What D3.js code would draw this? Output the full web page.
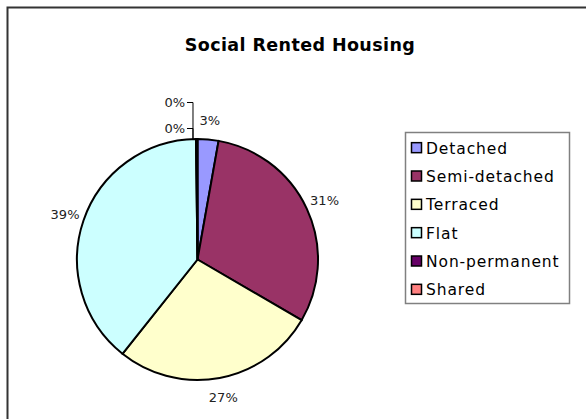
<!DOCTYPE html>
<html>
<head>
<meta charset="utf-8">
<script src="https://cdn.jsdelivr.net/npm/d3@7"></script>
<style>
  body { margin: 0; background: #fff; }
  text { font-family: "DejaVu Sans", sans-serif; fill: #222; }
</style>
</head>
<body>
<div id="chart"></div>
<script>
const width = 586;
const height = 419;

// data
const categories = ["Detached", "Semi-detached", "Terraced", "Flat", "Non-permanent", "Shared"];
const shares = [2.8, 30.6, 27.3, 39.1, 0.1, 0.1];
const labels = ["3%", "31%", "27%", "39%", "0%", "0%"];
const colors = ["#9999ff", "#993366", "#ffffcc", "#ccffff", "#660066", "#ff8080"];

const data = categories.map((c, i) => ({ name: c, value: shares[i], label: labels[i], color: colors[i] }));

const cx = 197.5, cy = 259.5, radius = 120.5;

const svg = d3.select("#chart")
  .append("svg")
  .attr("width", width)
  .attr("height", height);

// outer chart border (right and bottom run off the picture)
svg.append("rect")
  .attr("x", 7.5)
  .attr("y", 7.5)
  .attr("width", width + 20)
  .attr("height", height + 20)
  .attr("fill", "none")
  .attr("stroke", "#333")
  .attr("stroke-width", 2);

// Title
svg.append("text")
  .attr("x", 300)
  .attr("y", 51)
  .attr("text-anchor", "middle")
  .attr("font-size", "17.5px")
  .attr("font-weight", "bold")
  .attr("letter-spacing", "0.4px")
  .style("fill", "#000")
  .text("Social Rented Housing");

const pie = d3.pie().sort(null).value(d => d.value);
const arcs = pie(data);

const arc = d3.arc().innerRadius(0).outerRadius(radius);
const labelArc = d3.arc().innerRadius(140).outerRadius(140);

const g = svg.append("g").attr("transform", `translate(${cx},${cy})`);

g.selectAll("path")
  .data(arcs)
  .enter()
  .append("path")
  .attr("d", arc)
  .attr("fill", d => d.data.color)
  .attr("stroke", "#000")
  .attr("stroke-width", 2)
  .attr("stroke-linejoin", "round");

// labels for the slices big enough to hold them
const bigOnes = arcs.filter(d => d.data.value >= 1);
g.selectAll(".lbl")
  .data(bigOnes)
  .enter()
  .append("text")
  .attr("class", "lbl")
  .attr("transform", d => `translate(${labelArc.centroid(d)})`)
  .attr("text-anchor", "middle")
  .attr("dy", "0.35em")
  .attr("font-size", "13px")
  .text(d => d.data.label);

// the two 0% slices get stacked labels with leader lines
const tiny = arcs.filter(d => d.data.value < 1);
const topX = radius * Math.sin(tiny[0].startAngle) - 3;
const topY = -radius * Math.cos(tiny[0].startAngle);
const leadersY = [-157, -131];
tiny.forEach((d, i) => {
  const ly = leadersY[tiny.length - 1 - i];
  g.append("path")
    .attr("d", `M${topX - 6},${ly} H${topX} V${topY}`)
    .attr("fill", "none")
    .attr("stroke", "#000")
    .attr("stroke-width", 1);
  g.append("text")
    .attr("x", topX - 8)
    .attr("y", ly)
    .attr("dy", "0.35em")
    .attr("text-anchor", "end")
    .attr("font-size", "13px")
    .text(d.data.label);
});

// Legend
const legend = svg.append("g").attr("transform", "translate(405,132)");
legend.append("rect")
  .attr("x", 0.5)
  .attr("y", 0.5)
  .attr("width", 164)
  .attr("height", 171)
  .attr("fill", "#fff")
  .attr("stroke", "#808080")
  .attr("stroke-width", 1.5);

const rowY = d3.scaleBand()
  .domain(categories)
  .range([2, 172]);

const rows = legend.selectAll(".row")
  .data(data)
  .enter()
  .append("g")
  .attr("class", "row")
  .attr("transform", d => `translate(0,${rowY(d.name) + rowY.bandwidth() / 2})`);

rows.append("rect")
  .attr("x", 6.5)
  .attr("y", -5.5)
  .attr("width", 10)
  .attr("height", 10)
  .attr("fill", d => d.color)
  .attr("stroke", "#000")
  .attr("stroke-width", 1.5);

rows.append("text")
  .attr("x", 21)
  .attr("dy", "0.36em")
  .attr("font-size", "15.5px")
  .attr("letter-spacing", "0.9px")
  .style("fill", "#000")
  .text(d => d.name);
</script>
</body>
</html>
